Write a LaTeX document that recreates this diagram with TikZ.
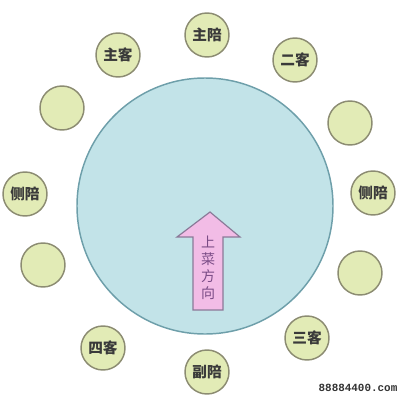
\documentclass[tikz,border=0pt]{standalone}
\usepackage{fontspec}
\newfontfamily\cjk{Noto Sans CJK SC}
\newfontfamily\webfont{Liberation Mono}
\definecolor{tablefill}{HTML}{C2E3E8}
\definecolor{tableline}{HTML}{6E9FAA}
\definecolor{seatfill}{HTML}{E2EBB6}
\definecolor{seatline}{HTML}{8C8C72}
\definecolor{seattext}{HTML}{3A3A3A}
\definecolor{arrowfill}{HTML}{F2BCE6}
\definecolor{arrowline}{HTML}{8A7A98}
\definecolor{arrowtext}{HTML}{7A4C86}
\tikzset{
  seat/.style={circle, draw=seatline, fill=seatfill, line width=1.1pt,
    minimum size=33pt, inner sep=0pt, text=seattext,
    font=\cjk\bfseries\fontsize{11}{12}\selectfont}
}
\begin{document}
\begin{tikzpicture}[x=0.75pt,y=-0.75pt]
      \useasboundingbox (0,0) rectangle (404,400);
      % table
      \draw[draw=tableline, fill=tablefill, line width=1.1pt] (205,206) coordinate (O) circle (128);
      % seats
      \node[seat] (zhupei) at (207,35) {主陪};
      \node[seat] (zhuke) at (118,55) {主客};
      \node[seat] (erke) at (295,60) {二客};
      \node[seat] (blankA) at (62,108) {};
      \node[seat] (blankB) at (350,123) {};
      \node[seat] (cepeiL) at (25,194) {侧陪};
      \node[seat] (cepeiR) at (373,193) {侧陪};
      \node[seat] (blankC) at (43,265) {};
      \node[seat] (blankD) at (360,273) {};
      \node[seat] (sike) at (103,348) {四客};
      \node[seat] (sanke) at (307,338) {三客};
      \node[seat] (fupei) at (207,372) {副陪};
      % serving direction
      \draw (210,212) coordinate (T) (177,237) coordinate (L) (240,237) coordinate (R);
      \draw[draw=arrowline, fill=arrowfill, line width=0.9pt]
        (T)--(R)--(223,237)--(223,310)--(193,310)--(193,237)--(L)--cycle;
      \node[text=arrowtext, align=center, font=\cjk\fontsize{10.5}{12.8}\selectfont] (dir) at (208,268) {上\\菜\\方\\向};
      \node[font=\webfont\bfseries\fontsize{8.2}{10}\selectfont, text=black!80] (mark) at (358,388) {88884400.com};
    \end{tikzpicture}
\end{document}
